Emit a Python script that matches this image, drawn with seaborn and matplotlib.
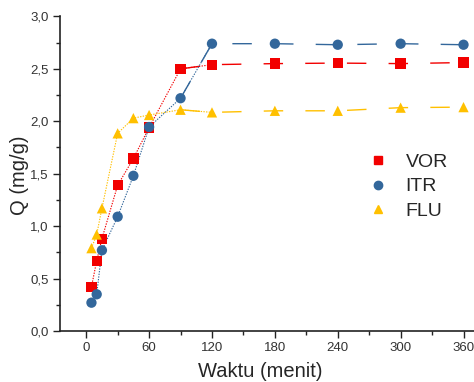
import numpy as np
import pandas as pd
import matplotlib
matplotlib.use("Agg")
import matplotlib.pyplot as plt
from matplotlib.ticker import MultipleLocator, FuncFormatter
import seaborn as sns

# Contact time (minutes)
waktu = [5, 10, 15, 30, 45, 60, 90, 120, 180, 240, 300, 360]
# Adsorption capacity Q (mg/g) per drug
vor = [0.42, 0.67, 0.88, 1.39, 1.645, 1.94, 2.50, 2.54, 2.55, 2.555, 2.55, 2.56]
itr = [0.27, 0.35, 0.77, 1.09, 1.48, 1.945, 2.22, 2.74, 2.74, 2.73, 2.74, 2.73]
flu = [0.79, 0.92, 1.17, 1.885, 2.03, 2.06, 2.11, 2.085, 2.10, 2.10, 2.13, 2.135]
series = ["VOR", "ITR", "FLU"]

df = pd.concat([
    pd.DataFrame({"Waktu": waktu, "Q": vals, "Obat": name})
    for name, vals in zip(series, [vor, itr, flu])
], ignore_index=True)

sns.set_style("white")
plt.rcParams["font.family"] = ["Liberation Sans", "DejaVu Sans"]

colors = {"VOR": "#f20000", "ITR": "#33679b", "FLU": "#ffc000"}
markers = {"VOR": "s", "ITR": "o", "FLU": "^"}

fig = plt.figure(figsize=(4.74, 3.82), dpi=100)
ax = fig.add_axes([0.1266, 0.1335, 0.8734, 0.8235])

# connecting lines: fine dots over the rising part, long dashes on the plateau
early = df[df["Waktu"] <= 120]
late = df[df["Waktu"] >= 90]
for name in series:
    sub_e = early[early["Obat"] == name]
    sub_l = late[late["Obat"] == name]
    ax.plot(sub_e["Waktu"], sub_e["Q"], color=colors[name], lw=0.8,
            linestyle=(0, (1.2, 1.2)), zorder=1)
    ax.plot(sub_l["Waktu"], sub_l["Q"], color=colors[name], lw=1.0,
            linestyle=(0, (14, 16)), zorder=1)

sns.scatterplot(data=df, x="Waktu", y="Q", hue="Obat", style="Obat",
                palette=colors, markers=markers, s=55, edgecolor="none",
                ax=ax, zorder=3, legend=False)

# legend
handles = [plt.Line2D([], [], linestyle="none", marker=markers[n],
                      color=colors[n], markersize=6) for n in series]
ax.legend(handles, series, loc="upper left", bbox_to_anchor=(0.703, 0.62),
          frameon=False, fontsize=14, handletextpad=0.9, labelspacing=0.35,
          handlelength=1.0)

ax.set_xlim(-25, 370)
ax.set_ylim(0, 3.0)
ax.xaxis.set_major_locator(MultipleLocator(60))
ax.xaxis.set_minor_locator(MultipleLocator(30))
ax.yaxis.set_major_locator(MultipleLocator(0.5))
ax.yaxis.set_minor_locator(MultipleLocator(0.25))
ax.yaxis.set_major_formatter(FuncFormatter(lambda v, p: f"{v:.1f}".replace(".", ",")))

for s in ["top", "right"]:
    ax.spines[s].set_visible(False)
for s in ["left", "bottom"]:
    ax.spines[s].set_color("#222222")
    ax.spines[s].set_linewidth(1.2)

ax.tick_params(which="major", direction="out", length=5, width=1.0,
               color="#222222", labelsize=9.5, labelcolor="#333333",
               left=True, bottom=True, pad=3)
ax.tick_params(which="minor", direction="out", length=3, width=1.0,
               color="#222222", left=True, bottom=True)

ax.set_xlabel("Waktu (menit)", fontsize=14.5)
ax.set_ylabel("Q (mg/g)", fontsize=14.5)
ax.xaxis.set_label_coords(0.483, -0.098)
ax.yaxis.set_label_coords(-0.075, 0.496)

fig.savefig("out.png", dpi=100)
